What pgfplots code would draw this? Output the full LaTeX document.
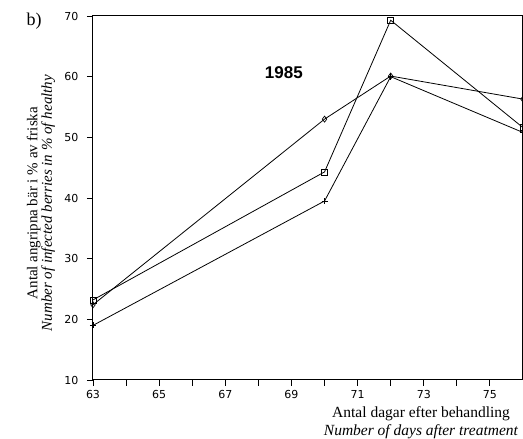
\documentclass[border=0pt]{standalone}
\usepackage{pgfplots}
\pgfplotsset{compat=1.18}
\usepackage{fontspec}
\setmainfont{Liberation Serif}
\setsansfont{Liberation Sans}
\newfontfamily\tickfont{DejaVu Sans}

% Infected berries (% of healthy) against days after treatment, 1985
\pgfplotstableread{
day val
63 23.2
70 44.3
72 69.3
76 51.6
}\seriesSquare
\pgfplotstableread{
day val
63 22.4
70 53.0
72 60.1
76 56.3
}\seriesDiamond
\pgfplotstableread{
day val
63 19.0
70 39.5
72 60.0
76 50.8
}\seriesPlus

\begin{document}
\begin{tikzpicture}[x=1pt,y=1pt]
\useasboundingbox (0,0) rectangle (523,439);
\begin{axis}[
  at={(93pt,59pt)}, anchor=south west,
  width=430pt, height=364pt, scale only axis,
  xmin=63, xmax=76, ymin=10, ymax=70,
  xtick={63,65,...,75}, minor xtick={64,66,...,76},
  ytick={10,20,...,70},
  xtick pos=bottom, ytick pos=left,
  tick align=outside,
  major tick length=6pt, minor tick length=6pt,
  every tick/.style={black, line width=0.9pt},
  axis line style={line width=1pt},
  /pgf/number format/assume math mode=true,
  tick label style={font=\tickfont\fontsize{11}{12}\selectfont},
  xticklabel style={yshift=-1pt},
  yticklabel style={xshift=-5pt},
  xlabel={Antal dagar efter behandling\\\textit{Number of days after treatment}},
  xlabel style={align=center, font=\fontsize{15.5}{18}\selectfont,
    at={(axis description cs:0.763,0)}, anchor=north, yshift=-23pt},
  ylabel={Antal angripna bär i \% av friska\\\textit{Number of infected berries in \% of healthy}},
  ylabel style={align=center, font=\fontsize{15}{14.5}\selectfont,
    at={(axis description cs:-0.121,0.486)}, anchor=center},
  clip=false,
]
\addplot[black, line width=0.8pt, mark=square, mark size=3pt,
  mark options={line width=0.7pt}] table[x=day,y=val] {\seriesSquare};
\addplot[black, line width=0.8pt, mark=diamond, mark size=3pt,
  mark options={line width=0.7pt}] table[x=day,y=val] {\seriesDiamond};
\addplot[black, line width=0.8pt, mark=+, mark size=3pt,
  mark options={line width=0.7pt}] table[x=day,y=val] {\seriesPlus};
\node[font=\sffamily\bfseries\fontsize{17}{19}\selectfont] at (axis cs:68.77,60.6) {1985};
\end{axis}
\node[font=\fontsize{18}{20}\selectfont] at (34,418) {b)};
\end{tikzpicture}
\end{document}
